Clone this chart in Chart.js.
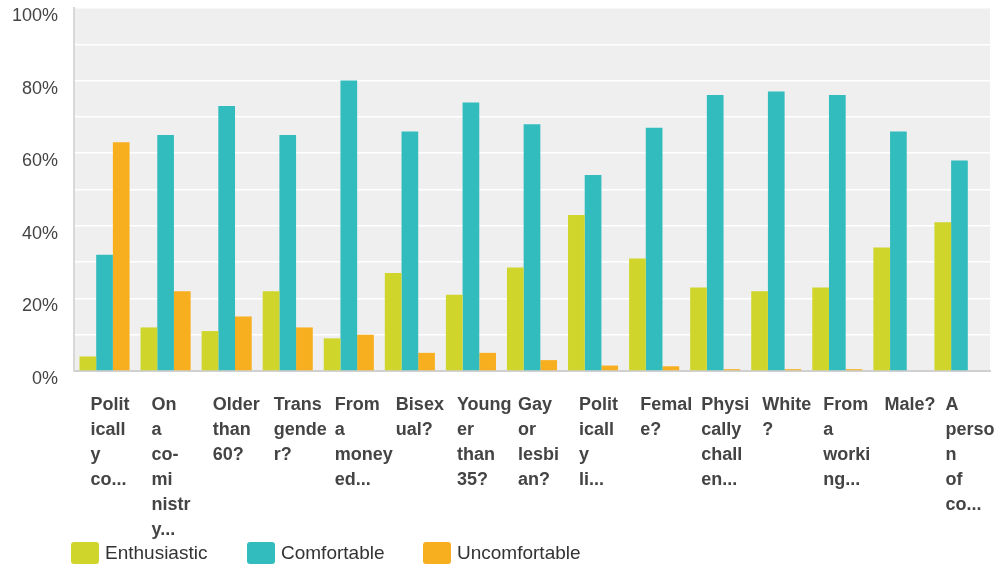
<!DOCTYPE html>
<html>
<head>
<meta charset="utf-8">
<script src="https://cdn.jsdelivr.net/npm/chart.js@4.4.0/dist/chart.umd.min.js"></script>
<style>
	html, body { margin: 0; padding: 0; background: #fff; }
	#wrap { width: 995px; height: 565px; }
</style>
</head>
<body>
<div id="wrap"><canvas id="myChart" width="995" height="565"></canvas></div>
<script>
// labels wrapped the way the survey tool shows them
var categories = [
	['Polit', 'icall', 'y', 'co...'],
	['On', 'a', 'co-', 'mi', 'nistr', 'y...'],
	['Older', 'than', '60?'],
	['Trans', 'gende', 'r?'],
	['From', 'a', 'money', 'ed...'],
	['Bisex', 'ual?'],
	['Young', 'er', 'than', '35?'],
	['Gay', 'or', 'lesbi', 'an?'],
	['Polit', 'icall', 'y', 'li...'],
	['Femal', 'e?'],
	['Physi', 'cally', 'chall', 'en...'],
	['White', '?'],
	['From', 'a', 'worki', 'ng...'],
	['Male?'],
	['A', 'perso', 'n', 'of', 'co...']
];
var seriesNames = ['Enthusiastic', 'Comfortable', 'Uncomfortable'];
var enthusiastic = [4, 12, 11, 22, 9, 27, 21, 28.5, 43, 31, 23, 22, 23, 34, 41];
var comfortable = [32, 65, 73, 65, 80, 66, 74, 68, 54, 67, 76, 77, 76, 66, 58];
var uncomfortable = [63, 22, 15, 12, 10, 5, 5, 3, 1.5, 1.3, 0.5, 0.5, 0.5, 0, 0];
var yTicks = [0, 20, 40, 60, 80, 100];

var colors = ['#cfd52a', '#33bcbe', '#f7ae1f'];
var fontFamily = '"Liberation Sans", Arial, sans-serif';

// grey plot background
var plotBackground = {
	id: 'plotBackground',
	beforeDraw: function(chart) {
		var a = chart.chartArea;
		var ctx = chart.ctx;
		ctx.save();
		ctx.fillStyle = '#efefef';
		ctx.fillRect(a.left, a.top - 1, a.right - a.left, a.bottom - a.top + 1);
		ctx.restore();
	}
};

// legend with fixed spacing like the original
var fixedLegend = {
	id: 'fixedLegend',
	afterDraw: function(chart) {
		var ctx = chart.ctx;
		ctx.save();
		chart.data.datasets.forEach(function(ds, i) {
			var x = 71 + i * 176;
			var y = 542;
			ctx.fillStyle = ds.backgroundColor;
			ctx.beginPath();
			ctx.roundRect(x, y, 28, 22, 3);
			ctx.fill();
			ctx.fillStyle = '#333';
			ctx.font = '19px ' + fontFamily;
			ctx.textBaseline = 'middle';
			ctx.textAlign = 'left';
			ctx.fillText(ds.label, x + 34, y + 12);
		});
		ctx.restore();
	}
};

var ctx = document.getElementById('myChart').getContext('2d');
var chart = new Chart(ctx, {
	type: 'bar',
	data: {
		labels: categories,
		datasets: [
			{ label: seriesNames[0], data: enthusiastic, backgroundColor: colors[0] },
			{ label: seriesNames[1], data: comfortable, backgroundColor: colors[1] },
			{ label: seriesNames[2], data: uncomfortable, backgroundColor: colors[2] }
		]
	},
	options: {
		responsive: false,
		animation: false,
		layout: { padding: { left: 12, right: 5, top: 8, bottom: 0 } },
		datasets: {
			bar: { categoryPercentage: 0.82, barPercentage: 1.0 }
		},
		plugins: {
			legend: { display: false },
			tooltip: { enabled: false }
		},
		scales: {
			x: {
				grid: { display: false, drawTicks: false },
				border: { display: true, color: '#d0d0d0', width: 2 },
				ticks: {
					autoSkip: false,
					maxRotation: 0,
					minRotation: 0,
					align: 'start',
					labelOffset: -14,
					padding: 22,
					color: '#444',
					font: { family: fontFamily, size: 18, weight: 'bold', lineHeight: '25px' }
				},
				afterFit: function(scale) {
					scale.paddingLeft = 0;
					scale.paddingRight = 0;
				}
			},
			y: {
				min: 0,
				max: 100,
				grid: { color: '#ffffff', lineWidth: 1.5, drawTicks: false },
				border: { display: true, color: '#d8d8d8', width: 2 },
				ticks: {
					stepSize: 10,
					padding: 16,
					labelOffset: 8,
					color: '#444',
					font: { family: fontFamily, size: 18 },
					callback: function(v) {
						return yTicks.indexOf(v) >= 0 ? v + '%' : '';
					}
				},
				afterFit: function(scale) {
					scale.width = 62;
					scale.paddingTop = 0;
					scale.paddingBottom = 0;
				}
			}
		}
	},
	plugins: [plotBackground, fixedLegend]
});
</script>
</body>
</html>
